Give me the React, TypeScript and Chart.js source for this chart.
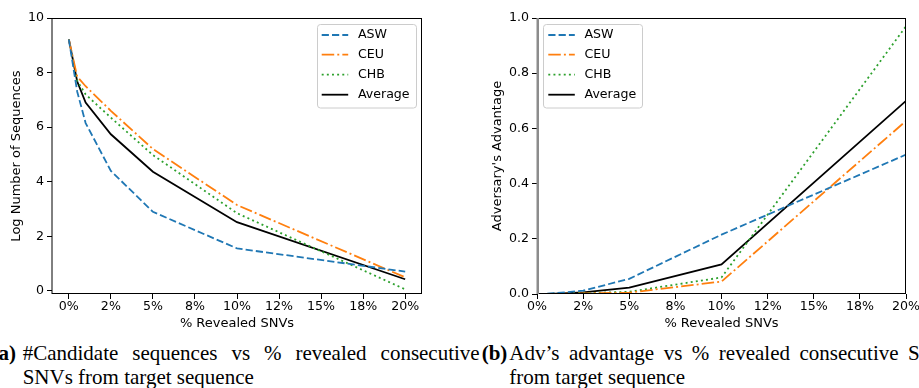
import React, { useEffect, useRef } from "react";
import { Chart, registerables } from "chart.js";

Chart.register(...registerables);

// Share of consecutive SNVs revealed from the target sequence (%)
const revealedPct = [0, 0.5, 1, 2.5, 5, 10, 20];

// (a) log number of candidate sequences per population
const candASW = [9.22, 7.3, 6.15, 4.4, 2.9, 1.56, 0.71];
const candCEU = [9.22, 7.85, 7.5, 6.6, 5.2, 3.15, 0.5];
const candCHB = [9.22, 7.7, 7.2, 6.35, 4.98, 2.85, 0.06];
const candAvg = [9.22, 7.67, 6.9, 5.74, 4.37, 2.52, 0.43];

// (b) adversary's advantage per population
const advASW = [0, 0.001, 0.003, 0.012, 0.055, 0.215, 0.505];
const advCEU = [0, 0, 0.001, 0.002, 0.005, 0.045, 0.627];
const advCHB = [0, 0, 0.001, 0.003, 0.008, 0.06, 0.97];
const advAvg = [0, 0.0003, 0.0017, 0.0057, 0.023, 0.107, 0.7];

// Axis ticks
const xTickValues = [0, 2.5, 5, 7.5, 10, 12.5, 15, 17.5, 20];
const xTickLabels = ["0%", "2%", "5%", "8%", "10%", "12%", "15%", "18%", "20%"];
const candTickValues = [0, 2, 4, 6, 8, 10];
const candTickLabels = ["0", "2", "4", "6", "8", "10"];
const advTickValues = [0, 0.2, 0.4, 0.6, 0.8, 1.0];
const advTickLabels = ["0.0", "0.2", "0.4", "0.6", "0.8", "1.0"];

// Series styling
const seriesNames = ["ASW", "CEU", "CHB", "Average"];
const seriesColors = ["#1f77b4", "#ff7f0e", "#2ca02c", "#000000"];
const seriesDashes = [[7.2, 3.1], [12.5, 3.1, 1.95, 3.1], [1.95, 3.2], []];

const FONT_FAMILY = "DejaVu Sans";
const FONT_SIZE = 12.6;
const TITLE_SIZE = 13;

type Area = { left: number; top: number; right: number; bottom: number };

type PanelProps = {
  width: number;
  height: number;
  series: number[][];
  xMin: number;
  xMax: number;
  yMin: number;
  yMax: number;
  yTicks: number[];
  yTickLabels: string[];
  yTitle: string;
  yTitleCenter: number;
  area: Area;
  legendSide: "left" | "right";
  leftSpineColor: string;
  leftSpineWidth: number;
};

// Axes frame (all four spines), drawn above the lines
const framePlugin = {
  id: "frame",
  afterDatasetsDraw(chart: any, _args: any, opts: any) {
    const { ctx, chartArea: a } = chart;
    ctx.save();
    ctx.strokeStyle = "#000";
    ctx.lineWidth = 1;
    ctx.beginPath();
    ctx.moveTo(a.left, a.top + 0.5);
    ctx.lineTo(a.right, a.top + 0.5);
    ctx.moveTo(a.right - 0.5, a.top);
    ctx.lineTo(a.right - 0.5, a.bottom);
    ctx.moveTo(a.left, a.bottom - 0.5);
    ctx.lineTo(a.right, a.bottom - 0.5);
    ctx.stroke();
    ctx.strokeStyle = opts.leftColor;
    ctx.lineWidth = opts.leftWidth;
    ctx.beginPath();
    ctx.moveTo(a.left + opts.leftWidth / 2 - 0.5, a.top);
    ctx.lineTo(a.left + opts.leftWidth / 2 - 0.5, a.bottom);
    ctx.stroke();
    ctx.restore();
  },
};

// Boxed legend inside the plot area
const legendPlugin = {
  id: "boxLegend",
  afterDraw(chart: any, _args: any, opts: any) {
    const { ctx, chartArea: a } = chart;
    const w = 99;
    const h = 83.5;
    const inset = 6.3;
    const x = opts.side === "right" ? a.right - inset - w : a.left + inset;
    const y = a.top + inset;
    const rows = [10.7, 30.4, 50.4, 70.4];
    ctx.save();
    ctx.beginPath();
    ctx.roundRect(Math.round(x) + 0.5, Math.round(y) + 0.5, w, h, 3);
    ctx.fillStyle = "rgba(255,255,255,0.8)";
    ctx.fill();
    ctx.strokeStyle = "#cccccc";
    ctx.lineWidth = 1;
    ctx.stroke();
    chart.data.datasets.forEach((ds: any, i: number) => {
      const yy = y + rows[i];
      ctx.beginPath();
      ctx.setLineDash(ds.borderDash || []);
      ctx.strokeStyle = ds.borderColor;
      ctx.lineWidth = ds.borderWidth;
      ctx.lineCap = "butt";
      ctx.moveTo(x + 5, yy);
      ctx.lineTo(x + 31.5, yy);
      ctx.stroke();
      ctx.setLineDash([]);
      ctx.fillStyle = "#000";
      ctx.font = `${FONT_SIZE}px "${FONT_FAMILY}"`;
      ctx.textBaseline = "middle";
      ctx.textAlign = "left";
      ctx.fillText(ds.label, x + 41.2, yy);
    });
    ctx.restore();
  },
};

function PanelChart(p: PanelProps) {
  const ref = useRef<HTMLCanvasElement | null>(null);

  useEffect(() => {
    if (!ref.current) return;
    const font = { family: FONT_FAMILY, size: FONT_SIZE };
    const titleFont = { family: FONT_FAMILY, size: TITLE_SIZE };
    const xAxisHeight = p.height - p.area.bottom;
    const xTitleCenter = 324;
    const chart = new Chart(ref.current, {
      type: "line",
      data: {
        datasets: p.series.map((vals, i) => ({
          label: seriesNames[i],
          data: revealedPct.map((x, j) => ({ x, y: vals[j] })),
          borderColor: seriesColors[i],
          backgroundColor: seriesColors[i],
          borderDash: seriesDashes[i],
          borderWidth: 1.8,
          pointRadius: 0,
          pointHoverRadius: 0,
          tension: 0,
          fill: false,
        })),
      },
      options: {
        animation: false,
        responsive: false,
        devicePixelRatio: 1,
        events: [],
        layout: {
          padding: {
            left: 0,
            top: p.area.top,
            right: p.width - p.area.right,
            bottom: 0,
          },
        },
        plugins: {
          legend: { display: false },
          tooltip: { enabled: false },
          frame: { leftColor: p.leftSpineColor, leftWidth: p.leftSpineWidth },
          boxLegend: { side: p.legendSide },
        } as any,
        scales: {
          x: {
            type: "linear",
            min: p.xMin,
            max: p.xMax,
            afterBuildTicks: (s: any) => {
              s.ticks = xTickValues.map((v) => ({ value: v }));
            },
            afterFit: (s: any) => {
              s.height = xAxisHeight;
              s.paddingLeft = 0;
              s.paddingRight = 0;
              s.paddingTop = 0;
              s.paddingBottom = 0;
            },
            ticks: {
              autoSkip: false,
              maxRotation: 0,
              color: "#000",
              font,
              padding: 0.5,
              callback: (_v: any, i: number) => xTickLabels[i],
            },
            grid: {
              display: true,
              drawOnChartArea: false,
              drawTicks: true,
              tickLength: 5,
              color: "#000",
              lineWidth: 1,
            },
            border: { display: false },
            title: {
              display: true,
              text: "% Revealed SNVs",
              color: "#000",
              font: titleFont,
              padding: { top: 0, bottom: p.height - xTitleCenter - (TITLE_SIZE * 1.2) / 2 },
            },
          },
          y: {
            type: "linear",
            min: p.yMin,
            max: p.yMax,
            afterBuildTicks: (s: any) => {
              s.ticks = p.yTicks.map((v) => ({ value: v }));
            },
            afterFit: (s: any) => {
              s.width = p.area.left;
              s.paddingLeft = 0;
              s.paddingRight = 0;
              s.paddingTop = 0;
              s.paddingBottom = 0;
            },
            ticks: {
              autoSkip: false,
              color: "#000",
              font,
              padding: 3,
              callback: (_v: any, i: number) => p.yTickLabels[i],
            },
            grid: {
              display: true,
              drawOnChartArea: false,
              drawTicks: true,
              tickLength: 5,
              color: "#000",
              lineWidth: 1,
            },
            border: { display: false },
            title: {
              display: true,
              text: p.yTitle,
              color: "#000",
              font: titleFont,
              padding: { top: p.yTitleCenter - (TITLE_SIZE * 1.2) / 2, bottom: 0 },
            },
          },
        },
      } as any,
      plugins: [framePlugin, legendPlugin],
    });
    return () => chart.destroy();
  }, []);

  return <canvas ref={ref} width={p.width} height={p.height} style={{ width: p.width, height: p.height, display: "block" }} />;
}

const captionFont: React.CSSProperties = {
  fontFamily: '"Liberation Serif", "Times New Roman", serif',
  fontSize: 21,
  lineHeight: "22.4px",
  color: "#000",
  position: "absolute",
  whiteSpace: "normal",
};

const LINE1_TOP = 342;
const LINE2_TOP = 366.4;

export default function App() {
  return (
    <div
      style={{
        position: "fixed",
        left: 0,
        top: 0,
        width: 919,
        height: 388,
        overflow: "hidden",
        background: "#fff",
      }}
    >
      <div style={{ position: "absolute", left: 0, top: 0 }}>
        <PanelChart
          width={460}
          height={340}
          series={[candASW, candCEU, candCHB, candAvg]}
          xMin={-1}
          xMax={21}
          yMin={-0.11}
          yMax={10}
          yTicks={candTickValues}
          yTickLabels={candTickLabels}
          yTitle="Log Number of Sequences"
          yTitleCenter={17}
          area={{ left: 52, top: 18, right: 422, bottom: 294 }}
          legendSide="right"
          leftSpineColor="#000"
          leftSpineWidth={1}
        />
      </div>
      <div style={{ position: "absolute", left: 460, top: 0 }}>
        <PanelChart
          width={459}
          height={340}
          series={[advASW, advCEU, advCHB, advAvg]}
          xMin={0}
          xMax={20}
          yMin={0}
          yMax={1}
          yTicks={advTickValues}
          yTickLabels={advTickLabels}
          yTitle="Adversary's Advantage"
          yTitleCenter={37.5}
          area={{ left: 77, top: 18, right: 446, bottom: 294 }}
          legendSide="left"
          leftSpineColor="#8c8c8c"
          leftSpineWidth={2.5}
        />
      </div>

      {/* Sub-figure captions */}
      <div style={{ ...captionFont, left: -8.5, top: LINE1_TOP, fontWeight: "bold" }}>(a)</div>
      <div style={{ ...captionFont, left: 22.7, top: LINE1_TOP, width: 457, textAlign: "justify", textAlignLast: "justify" }}>
        #Candidate sequences vs % revealed consecutive
      </div>
      <div style={{ ...captionFont, left: 22.7, top: LINE2_TOP }}>SNVs from target sequence</div>

      <div style={{ ...captionFont, left: 481.7, top: LINE1_TOP, fontWeight: "bold" }}>(b)</div>
      <div style={{ ...captionFont, left: 509.3, top: LINE1_TOP, width: 449, textAlign: "justify", textAlignLast: "justify" }}>
        Adv’s advantage vs % revealed consecutive SNVs
      </div>
      <div style={{ ...captionFont, left: 509.3, top: LINE2_TOP }}>from target sequence</div>
    </div>
  );
}
